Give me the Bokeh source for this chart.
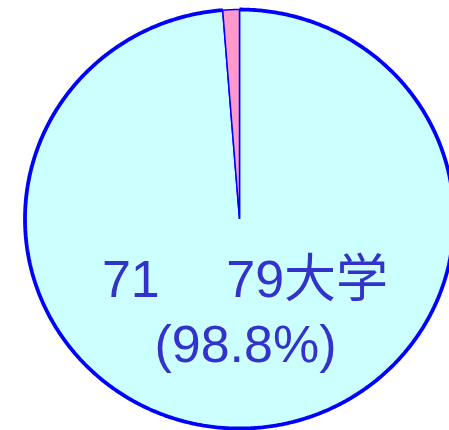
import numpy as np
from bokeh.plotting import figure
from bokeh.models import Range1d, ColumnDataSource
from bokeh.core.properties import value
from bokeh.embed import file_html
from bokeh.resources import INLINE

# ---- data ----
categories = ["71\u3000 79大学", "その他"]
counts = [79, 1]
colors = ["#CCFFFF", "#FF99CC"]
shown_label = categories[0]
shown_pct = "(98.8%)"

# ---- layout (data units = screen pixels, y measured upward from bottom) ----
W, H = 449, 430
CX, CY = 239.0, H - 218.5
RX, RY = 214.5, 209.5

p = figure(width=W, height=H, x_range=Range1d(0, W), y_range=Range1d(0, H),
           output_backend="svg", toolbar_location=None, min_border=0,
           background_fill_color="white", border_fill_color="white")
p.axis.visible = False
p.grid.visible = False
p.outline_line_color = None

total = float(sum(counts))
start = np.pi / 2
xs, ys, arc_x, arc_y = [], [], [], []
for c in counts:
    sweep = 2 * np.pi * c / total
    n = max(int(720 * c / total), 4)
    t = np.linspace(start, start - sweep, n + 1)
    ax = CX + RX * np.cos(t)
    ay = CY + RY * np.sin(t)
    xs.append([CX] + list(ax))
    ys.append([CY] + list(ay))
    arc_x.append(list(ax))
    arc_y.append(list(ay))
    start -= sweep

src = ColumnDataSource(dict(xs=xs, ys=ys, color=colors, name=categories))
p.patches("xs", "ys", source=src, fill_color="color", line_color="#0000FF", line_width=1.5)
# thick outer border on the main slice
p.multi_line([arc_x[0]], [arc_y[0]], line_color="#0000FF", line_width=3.8)

font = value("'Liberation Sans', 'Noto Sans CJK JP', sans-serif")
p.text(x=[CX + 5.5, CX + 6], y=[CY - 59.5, CY - 124.5], text=[shown_label, shown_pct],
       text_font=font, text_font_size="52px", text_color="#3333CC",
       text_align="center", text_baseline="alphabetic")

open("out.html", "w").write(file_html(p, INLINE))
